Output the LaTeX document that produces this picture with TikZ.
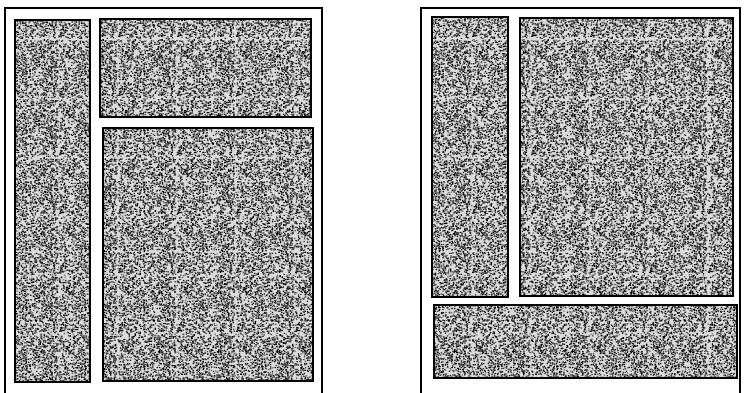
\documentclass[tikz,border=0pt]{standalone}
\usetikzlibrary{patterns}
\pgfmathsetseed{4711}
\pgfdeclarepatternformonly{dotsA}{\pgfpointorigin}{\pgfpoint{59pt}{59pt}}{\pgfpoint{59pt}{59pt}}{%
  \foreach \k in {1,...,560}{%
    \pgfmathsetmacro\xx{rnd*57.7}%
    \pgfmathsetmacro\yy{rnd*57.7}%
    \pgfpathrectangle{\pgfpoint{\xx pt}{\yy pt}}{\pgfpoint{1.3pt}{1.2pt}}%
    \pgfusepath{fill}%
  }}
\pgfdeclarepatternformonly{dotsB}{\pgfpointorigin}{\pgfpoint{71pt}{71pt}}{\pgfpoint{71pt}{71pt}}{%
  \foreach \k in {1,...,660}{%
    \pgfmathsetmacro\xx{rnd*69.6}%
    \pgfmathsetmacro\yy{rnd*69.6}%
    \pgfpathrectangle{\pgfpoint{\xx pt}{\yy pt}}{\pgfpoint{1.4pt}{1.1pt}}%
    \pgfusepath{fill}%
  }}
\begin{document}
\begin{tikzpicture}[x=1pt,y=-1pt,
  frame/.style={line width=2pt,black},
  boxline/.style={line width=2.8pt,black}]
\useasboundingbox (0,0) rectangle (745,392);
\clip (0,0) rectangle (745,392);
\newcommand\stipplebox[4]{%
  \fill[black!14] (#1,#2) rectangle (#3,#4);
  \fill[pattern=dotsA,pattern color=black] (#1,#2) rectangle (#3,#4);
  \fill[pattern=dotsB,pattern color=black!70] (#1,#2) rectangle (#3,#4);
  \draw[boxline] (#1,#2) rectangle (#3,#4);
}
% left panel outer frame (bottom cut off)
\draw[frame] (5,400) -- (5,8) -- (322,8) -- (322,400);
\stipplebox{15}{20}{90}{382}
\stipplebox{100}{19}{311}{117}
\stipplebox{103}{128}{313}{381}
% right panel outer frame
\draw[frame] (421,400) -- (421,8) -- (740,8) -- (740,400);
\stipplebox{432}{17}{508}{297}
\stipplebox{520}{18}{733}{296}
\stipplebox{434}{305}{737}{378}
\end{tikzpicture}
\end{document}
